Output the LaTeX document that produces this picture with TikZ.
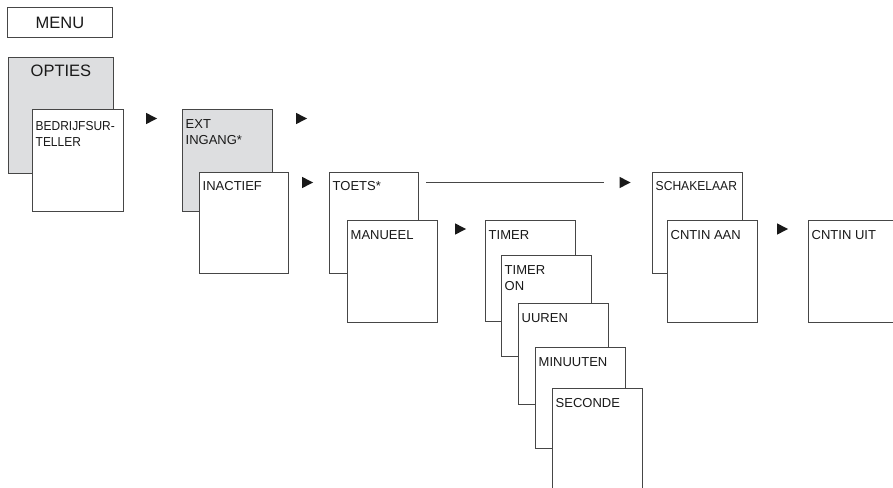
\documentclass[tikz,border=0pt]{standalone}
\usepackage{fontspec}
\setmainfont{Liberation Sans}
\usepackage{graphicx}
\definecolor{linecol}{RGB}{70,70,70}
\definecolor{graycol}{RGB}{221,222,224}
\definecolor{tricol}{RGB}{25,25,25}
\newcommand\twolines[2]{\vtop{\hbox{#1}\hbox{#2}}}
\begin{document}
\begin{tikzpicture}[x=1pt,y=-1pt,
  box/.style={draw=linecol,line width=0.9pt,fill=white,anchor=north west,inner sep=0pt,
    minimum width=90pt,minimum height=101pt},
  graybox/.style={box,fill=graycol},
  txt/.style={anchor=base west,inner sep=0pt,text=black!90,
    font=\fontsize{13}{16}\selectfont},
  big/.style={inner sep=0pt,text=black!90,font=\fontsize{16.5}{18}\selectfont},
  tri/.pic={\fill[tricol] (0,-5.7) -- (11,0) -- (0,5.7) -- cycle;}
]
\useasboundingbox (0,0) rectangle (893,487);
\clip (0,0) rectangle (893,487);
% MENU
\node[box,minimum width=105pt,minimum height=30pt] (menu) at (7,7) {};
\node[big] at (menu.center) {MENU};
% OPTIES
\node[graybox,minimum width=105pt,minimum height=116pt] (opties) at (8,57) {};
\node[big,anchor=base] at ([yshift=-20pt]opties.north) {OPTIES};
\node[box,minimum width=91pt,minimum height=102pt] (bedr) at (32,109) {};
\node[txt] at ([xshift=3.5pt,yshift=-21pt]bedr.north west) {\twolines{\scalebox{0.92}[1]{BEDRIJFSUR-}}{\scalebox{0.92}[1]{TELLER}}};
\pic at (146,118.5) {tri};
% EXT INGANG
\node[graybox,minimum height=102pt] (ext) at (182,109) {};
\node[txt] at ([xshift=3.5pt,yshift=-19.5pt]ext.north west) {\twolines{EXT}{INGANG*}};
\pic at (296,118.5) {tri};
\node[box,minimum width=89pt] (inact) at (199,172) {};
\node[txt] at ([xshift=3.5pt,yshift=-18.5pt]inact.north west) {INACTIEF};
\pic at (302,182.5) {tri};
% TOETS
\node[box,minimum width=89pt] (toets) at (329,172) {};
\node[txt] at ([xshift=3.5pt,yshift=-18pt]toets.north west) {TOETS*};
\coordinate (la) at (426,182);
\coordinate (lb) at (604,182);
\draw[linecol,line width=0.9pt] (la) -- (lb);
\pic at (619.5,182.5) {tri};
\node[box,minimum height=102pt] (man) at (347,220) {};
\node[txt] at ([xshift=3.5pt,yshift=-19pt]man.north west) {MANUEEL};
\pic at (455,229) {tri};
% TIMER stack
\node[box] (timer) at (485,220) {};
\node[txt] at ([xshift=3.5pt,yshift=-19pt]timer.north west) {TIMER};
\node[box] (timeron) at (501,255) {};
\node[txt] at ([xshift=3.5pt,yshift=-19pt]timeron.north west) {\twolines{TIMER}{ON}};
\node[box] (uuren) at (518,303) {};
\node[txt] at ([xshift=3.5pt,yshift=-19pt]uuren.north west) {UUREN};
\node[box] (minuten) at (535,347) {};
\node[txt] at ([xshift=3.5pt,yshift=-19pt]minuten.north west) {MINUUTEN};
\node[box,minimum height=110pt] (sec) at (552,388) {};
\node[txt] at ([xshift=3.5pt,yshift=-19pt]sec.north west) {SECONDE};
% SCHAKELAAR
\node[box] (schak) at (652,172) {};
\node[txt] at ([xshift=3.5pt,yshift=-18pt]schak.north west) {\scalebox{0.93}[1]{SCHAKELAAR}};
\node[box,minimum height=102pt] (aan) at (667,220) {};
\node[txt] at ([xshift=3.5pt,yshift=-19pt]aan.north west) {CNTIN AAN};
\pic at (777,229) {tri};
\node[box,minimum height=102pt] (uit) at (808,220) {};
\node[txt] at ([xshift=3.5pt,yshift=-19pt]uit.north west) {CNTIN UIT};
\end{tikzpicture}
\end{document}
